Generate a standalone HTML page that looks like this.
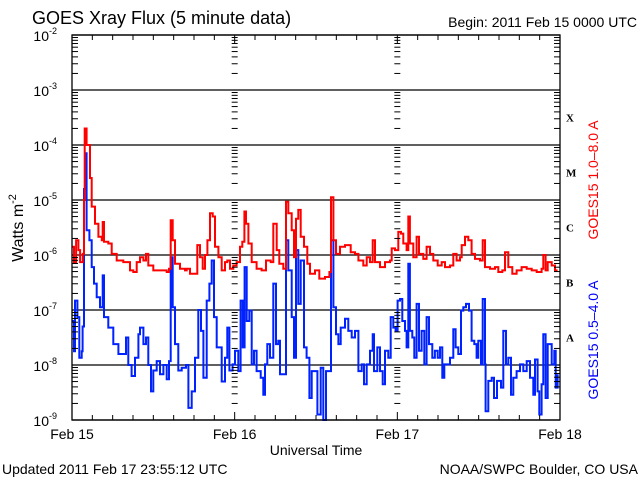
<!DOCTYPE html>
<html><head><meta charset="utf-8"><style>
html,body{margin:0;padding:0;background:#fff;}
svg{display:block;font-family:"Liberation Sans",sans-serif;}
</style></head><body>
<svg id="chart" width="640" height="480" viewBox="0 0 640 480" xmlns="http://www.w3.org/2000/svg">
<rect width="640" height="480" fill="#fff"/>
<text x="32" y="24" font-size="18" fill="#000">GOES Xray Flux (5 minute data)</text>
<text x="637" y="27" font-size="14" text-anchor="end" fill="#000">Begin:  2011 Feb 15 0000 UTC</text>
<g id="grid"></g>
<g id="series"></g>
<g id="axes"></g>
<text transform="translate(23,228) rotate(-90)" font-size="16" text-anchor="middle" fill="#000">Watts m<tspan font-size="11" dy="-7">-2</tspan></text>
<text x="316" y="455" font-size="14" text-anchor="middle" fill="#000">Universal Time</text>
<text transform="translate(598,180) rotate(-90)" font-size="14" text-anchor="middle" fill="#ff0000">GOES15 1.0–8.0 A</text>
<text transform="translate(598,340) rotate(-90)" font-size="14" text-anchor="middle" fill="#0000ff">GOES15 0.5–4.0 A</text>
<text x="2" y="474" font-size="14" fill="#000">Updated 2011 Feb 17 23:55:12 UTC</text>
<text x="638" y="474" font-size="14" text-anchor="end" fill="#000">NOAA/SWPC Boulder, CO USA</text>
</svg>
<script>
const dayLabels = ["Feb 15","Feb 16","Feb 17","Feb 18"];
const decadeExponents = [-2,-3,-4,-5,-6,-7,-8,-9];
const flareClasses = ["X","M","C","B","A"];
const redHours = [0,0.3,0.6,0.95,1.2,1.6,1.77,1.87,2.16,2.66,2.9,3.4,3.9,4.4,4.53,4.72,5.36,5.85,6.6,7.57,8.55,9.05,9.55,10.03,10.53,10.92,11.26,12.0,12.74,13.48,13.97,14.31,14.56,14.85,15.2,15.94,16.67,16.92,17.41,18.15,18.49,18.89,19.28,19.63,19.97,20.36,20.76,21.1,21.6,22.08,22.58,22.92,23.31,23.8,24.29,24.79,25.13,25.43,25.67,26.02,26.51,27.24,27.98,28.62,29.31,29.7,30.2,30.59,31.18,31.57,31.92,32.41,32.75,33.05,33.39,33.74,34.23,34.72,35.11,35.85,36.49,37.33,37.97,38.21,38.56,38.95,39.54,40.28,41.12,41.76,42.25,42.98,43.48,43.97,44.36,44.71,45.44,46.18,46.92,47.17,47.66,48.14,48.54,48.88,49.37,49.62,49.86,50.36,50.85,51.19,51.83,52.32,52.82,53.31,53.95,54.54,55.03,55.77,56.26,56.75,57.24,57.49,57.98,58.47,58.96,59.46,60.19,60.59,60.93,61.67,62.41,62.9,63.49,63.88,64.37,64.96,65.6,66.34,67.08,67.82,68.56,69.29,69.54,69.88,70.18,70.77,71.26,71.65];
const redLog = [-5.85,-6.13,-5.73,-5.91,-6.13,-5.98,-5.0,-3.7,-4.0,-4.6,-5.12,-5.43,-5.67,-5.73,-5.4,-5.76,-5.79,-5.98,-6.1,-6.13,-6.28,-6.31,-6.13,-6.04,-6.1,-5.98,-6.19,-6.28,-6.28,-6.28,-6.31,-6.25,-5.37,-5.73,-6.16,-6.25,-6.28,-6.25,-6.34,-6.34,-5.82,-6.04,-6.25,-6.0,-5.73,-5.24,-5.3,-5.85,-6.04,-6.28,-6.13,-6.1,-6.25,-6.19,-6.13,-5.85,-5.76,-5.21,-5.43,-5.79,-6.13,-6.25,-6.28,-6.1,-6.13,-5.43,-5.91,-6.16,-6.25,-5.03,-5.24,-5.55,-6.04,-5.34,-5.18,-5.67,-5.85,-6.16,-6.34,-6.28,-6.43,-6.4,-6.31,-4.95,-5.73,-5.98,-5.85,-5.82,-5.95,-5.98,-6.1,-6.19,-6.04,-6.13,-5.73,-6.13,-6.22,-6.13,-6.1,-5.88,-5.91,-5.58,-5.61,-5.79,-5.91,-5.3,-5.79,-6.04,-5.67,-5.98,-6.07,-5.85,-5.98,-6.1,-6.19,-6.13,-6.22,-6.19,-5.98,-6.1,-6.04,-5.82,-5.67,-5.73,-5.98,-6.07,-6.1,-5.73,-6.22,-6.25,-6.22,-6.31,-6.28,-5.95,-6.22,-6.34,-6.28,-6.22,-6.25,-6.28,-6.31,-6.25,-6.0,-6.28,-6.13,-6.19,-6.28,-6.28];
const blueHours = [0,0.3,0.44,0.79,1.08,1.43,1.57,1.77,1.92,2.16,2.56,2.9,3.25,3.64,4.13,4.48,4.53,4.72,5.36,6.1,6.84,7.57,7.97,8.31,8.8,9.3,9.79,10.03,10.53,10.92,11.26,11.66,12.0,12.5,12.99,13.48,13.97,14.31,14.56,14.85,15.2,15.69,16.18,16.82,17.17,17.66,18.15,18.64,19.03,19.38,19.87,20.27,20.61,20.95,21.35,22.08,22.58,22.92,23.22,23.7,24.05,24.54,24.88,25.18,25.47,25.77,26.16,26.51,26.85,27.24,27.84,28.23,28.47,28.82,29.21,29.7,30.1,30.44,30.69,31.18,31.57,31.92,32.41,32.75,33.05,33.39,33.74,34.23,34.62,35.02,35.36,35.85,36.2,36.69,37.08,37.48,37.97,38.21,38.56,38.95,39.3,39.64,40.28,40.77,41.26,41.76,42.25,42.74,43.08,43.48,43.97,44.36,44.56,45.05,45.44,45.84,46.18,46.67,47.02,47.41,47.75,48.04,48.39,48.73,49.13,49.37,49.62,49.86,50.21,50.5,50.85,51.19,51.58,51.98,52.32,52.67,53.16,53.55,53.95,54.29,54.63,54.93,55.3,55.77,56.26,56.6,56.99,57.39,57.73,58.13,58.57,58.96,59.36,59.7,59.95,60.34,60.59,60.93,61.03,61.42,61.92,62.26,62.7,63.29,63.64,64.03,64.37,64.77,65.11,65.6,66.1,66.59,67.08,67.57,68.06,68.31,68.7,68.95,69.29,69.54,69.88,70.18,70.52,70.77,71.16,71.36,71.65];
const blueLog = [-7.2,-7.75,-6.83,-7.13,-7.87,-7.75,-7.3,-4.8,-4.15,-5.55,-5.73,-6.22,-6.52,-6.77,-6.95,-6.95,-6.37,-7.13,-7.32,-7.62,-7.8,-7.8,-7.5,-8.0,-8.2,-7.87,-7.44,-7.32,-7.62,-7.5,-8.0,-8.48,-8.1,-7.93,-8.17,-8.0,-8.26,-7.93,-6.04,-6.95,-7.62,-8.1,-8.05,-8.0,-8.78,-8.48,-7.87,-7.0,-7.38,-8.23,-6.83,-6.52,-6.1,-7.13,-7.68,-8.3,-7.87,-7.32,-8.1,-7.99,-7.74,-8.11,-6.83,-7.68,-6.22,-7.2,-7.01,-7.99,-7.74,-8.11,-8.23,-8.54,-7.99,-7.62,-7.87,-6.52,-7.62,-7.56,-8.17,-8.17,-5.73,-6.28,-7.13,-7.87,-5.91,-6.89,-6.1,-7.68,-7.87,-8.6,-8.11,-8.11,-8.9,-8.05,-9.0,-8.11,-8.11,-5.73,-6.95,-7.44,-7.62,-7.32,-7.16,-7.38,-7.5,-7.38,-8.11,-7.99,-8.35,-7.99,-7.74,-7.44,-8.11,-7.68,-8.11,-8.35,-7.74,-7.87,-7.13,-7.32,-7.38,-6.83,-6.8,-7.2,-7.38,-7.68,-6.16,-7.38,-7.5,-7.87,-6.89,-7.74,-7.38,-7.99,-7.13,-7.62,-7.87,-7.74,-7.87,-7.68,-8.23,-7.99,-7.99,-7.87,-7.35,-7.68,-7.8,-7.01,-6.95,-6.89,-7.01,-7.56,-7.62,-7.87,-7.56,-7.99,-6.8,-7.99,-8.84,-8.29,-8.23,-8.6,-8.29,-8.41,-7.38,-7.99,-7.87,-8.54,-8.23,-8.11,-7.99,-8.11,-7.93,-8.23,-8.54,-7.9,-8.48,-8.9,-8.35,-7.44,-8.6,-7.62,-7.62,-7.99,-7.74,-8.41,-8.17];

const NS="http://www.w3.org/2000/svg";
const L=72,R=560,T=35,B=420;
const xOf=h=>L+(R-L)*h/72;
const yOf=v=>T+(-2-v)*(B-T)/7;
function mk(tag,attrs,parent){const e=document.createElementNS(NS,tag);for(const k in attrs)e.setAttribute(k,attrs[k]);parent.appendChild(e);return e;}
const grid=document.getElementById('grid'),axes=document.getElementById('axes'),series=document.getElementById('series');

decadeExponents.forEach(p=>{
  const y=yOf(p);
  const g=mk('line',{x1:L,x2:R,y1:y,y2:y,stroke:'#000','stroke-width':1.3},grid);
  
  
  const t=mk('text',{x:57,y:y+6,'font-size':14,'text-anchor':'end',fill:'#000'},axes);
  
  
  t.textContent='10';
  const s=mk('tspan',{'font-size':9,dy:-7},t);s.textContent=String(p);
  if(p>-9){
    for(let m=2;m<=9;m++){
      const yy=yOf(p-1+Math.log10(m));
      [[L,L+6],[R-6,R],[xOf(24)-3,xOf(24)+3],[xOf(48)-3,xOf(48)+3]].forEach(([a,b])=>mk('line',{x1:a,x2:b,y1:yy,y2:yy,stroke:'#000','stroke-width':1},axes));
    }
  }
});
flareClasses.forEach((c,i)=>{
  const t=mk('text',{x:566,y:yOf(-3.5-i)+4,'font-size':11,'font-weight':'bold','font-family':'Liberation Serif, serif',fill:'#000'},axes);
  
  
  t.textContent=c;
});
const frame=mk('rect',{x:L,y:T,width:R-L,height:B-T,fill:'none',stroke:'#000','stroke-width':1.3},axes);


for(let h=0;h<=72;h+=3){
  const x=xOf(h),len=h%24===0?8:5;
  mk('line',{x1:x,x2:x,y1:B,y2:B-len,stroke:'#000'},axes);
  mk('line',{x1:x,x2:x,y1:T,y2:T+len,stroke:'#000'},axes);
}
dayLabels.forEach((d,i)=>{
  const t=mk('text',{x:xOf(i*24),y:439,'font-size':14,'text-anchor':'middle',fill:'#000'},axes);
  
  
  t.textContent=d;
});
function line(hours,vals,color,name){
  const pts=[];
  hours.forEach((h,i)=>{
    const x=xOf(h).toFixed(1),y=yOf(vals[i]).toFixed(1);
    if(i>0)pts.push(x+','+yOf(vals[i-1]).toFixed(1));
    pts.push(x+','+y);
  });
  const p=mk('polyline',{points:pts.join(' '),fill:'none',stroke:color,'stroke-width':2,'stroke-linejoin':'miter'},series);
  
  
}
line(blueHours,blueLog,'#0022ff','series-short-channel');
line(redHours,redLog,'#ff0000','series-long-channel');
</script>
</body></html>
